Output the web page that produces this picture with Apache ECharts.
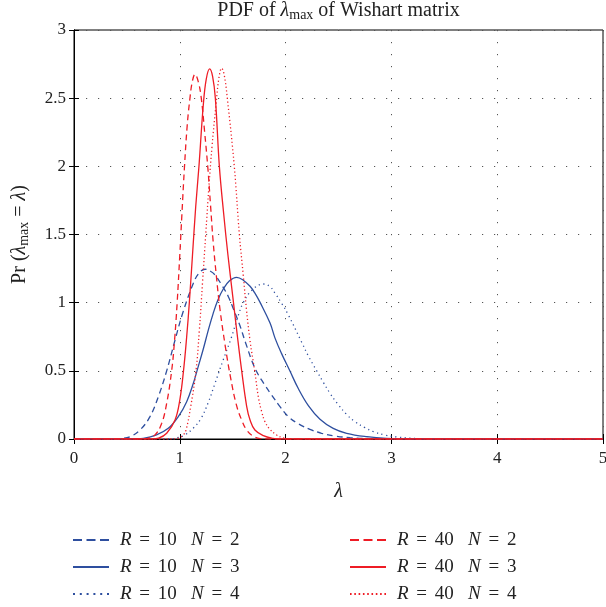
<!DOCTYPE html>
<html style="height: 100%">
    <head>
        <meta charset="utf-8">
    </head>
    <body style="height: 100%; margin: 0; background: #fff">
        <div id="container" style="height: 100%"></div>

        <script type="text/javascript" src="https://cdn.jsdelivr.net/npm/echarts@6/dist/echarts.min.js"></script>

        <script type="text/javascript">
// [lambda, pdf]
var r10n2 = [[0,0],[0.40,0],[0.435,0.002],[0.529,0.017],[0.624,0.066],[0.718,0.164],[0.797,0.31],[0.876,0.5],[0.955,0.726],[1.03,0.93],[1.128,1.142],[1.18,1.215],[1.238,1.245],[1.29,1.23],[1.333,1.203],[1.396,1.13],[1.459,1.044],[1.506,0.955],[1.569,0.83],[1.62,0.71],[1.71,0.52],[1.80,0.4],[1.868,0.323],[1.947,0.237],[2.026,0.164],[2.12,0.112],[2.23,0.071],[2.34,0.042],[2.467,0.022],[2.61,0.01],[2.8,0.003],[3.1,0],[5,0]];
var r10n3 = [[0,0],[0.55,0],[0.655,0.005],[0.78,0.03],[0.891,0.078],[0.986,0.164],[1.065,0.274],[1.128,0.409],[1.17,0.52],[1.222,0.66],[1.27,0.8],[1.315,0.92],[1.36,1.02],[1.411,1.1],[1.47,1.16],[1.537,1.186],[1.60,1.165],[1.664,1.12],[1.71,1.07],[1.76,1.0],[1.853,0.85],[1.90,0.74],[1.96,0.63],[2.04,0.5],[2.12,0.37],[2.215,0.245],[2.325,0.145],[2.45,0.078],[2.577,0.042],[2.77,0.017],[2.955,0.005],[3.2,0],[5,0]];
var r10n4 = [[0,0],[0.9,0],[0.97,0.008],[1.049,0.03],[1.128,0.08],[1.20,0.15],[1.27,0.27],[1.333,0.409],[1.41,0.58],[1.49,0.75],[1.55,0.9],[1.60,1.0],[1.68,1.09],[1.79,1.137],[1.853,1.118],[1.90,1.069],[1.963,0.995],[2.026,0.91],[2.152,0.71],[2.215,0.609],[2.294,0.5],[2.357,0.415],[2.42,0.335],[2.49,0.26],[2.577,0.18],[2.656,0.127],[2.75,0.083],[2.83,0.054],[2.94,0.029],[3.05,0.015],[3.25,0.003],[3.5,0],[5,0]];
var r40n2 = [[0,0],[0.62,0],[0.69,0.003],[0.766,0.03],[0.829,0.115],[0.876,0.262],[0.923,0.5],[0.95,0.72],[0.975,1.0],[1.0,1.35],[1.02,1.65],[1.043,1.98],[1.07,2.3],[1.096,2.5],[1.118,2.62],[1.144,2.676],[1.175,2.62],[1.203,2.5],[1.235,2.25],[1.266,1.98],[1.29,1.72],[1.315,1.45],[1.345,1.2],[1.38,0.95],[1.43,0.68],[1.48,0.45],[1.535,0.25],[1.585,0.139],[1.632,0.066],[1.695,0.02],[1.76,0.003],[1.85,0],[5,0]];
var r40n3 = [[0,0],[0.74,0],[0.80,0.006],[0.876,0.042],[0.955,0.139],[1.0,0.286],[1.035,0.5],[1.065,0.75],[1.09,1.0],[1.12,1.35],[1.15,1.7],[1.181,2.0],[1.222,2.45],[1.25,2.64],[1.282,2.715],[1.31,2.66],[1.336,2.5],[1.374,2.0],[1.415,1.65],[1.455,1.35],[1.5,1.05],[1.545,0.75],[1.585,0.5],[1.632,0.24],[1.664,0.139],[1.71,0.066],[1.79,0.025],[1.88,0.005],[1.95,0],[5,0]];
var r40n4 = [[0,0],[0.9,0],[0.98,0.005],[1.033,0.03],[1.059,0.066],[1.103,0.237],[1.153,0.5],[1.185,0.8],[1.215,1.15],[1.245,1.5],[1.275,1.85],[1.305,2.15],[1.342,2.45],[1.37,2.65],[1.396,2.72],[1.42,2.67],[1.449,2.5],[1.515,2.0],[1.563,1.5],[1.60,1.2],[1.63,0.95],[1.664,0.72],[1.71,0.49],[1.742,0.31],[1.774,0.2],[1.805,0.127],[1.852,0.071],[1.916,0.029],[1.98,0.008],[2.05,0],[5,0]];

var seriesNames = ['R = 10  N = 2', 'R = 10  N = 3', 'R = 10  N = 4',
                   'R = 40  N = 2', 'R = 40  N = 3', 'R = 40  N = 4'];
var seriesData = [r10n2, r10n3, r10n4, r40n2, r40n3, r40n4];

var blue = '#2e4f9f';
var red = '#ee1c25';
var serif = 'Liberation Serif';
var dashes = [[6, 4], null, [1.2, 3.5], [6, 4], null, [1.2, 2.5]];

// legend samples as filled paths (line series legend would add a circle)
var iconDash = 'path://M0,0h9v2h-9zM13.5,0h9v2h-9zM27,0h9v2h-9z';
var iconSolid = 'path://M0,0h36v2h-36z';
var iconDotBlue = 'path://M0,0h2v2h-2zM6.8,0h2v2h-2zM13.6,0h2v2h-2zM20.4,0h2v2h-2zM27.2,0h2v2h-2zM34,0h2v2h-2z';
var iconDotRed = 'path://M0,0h1.6v2h-1.6zM4.3,0h1.6v2h-1.6zM8.6,0h1.6v2h-1.6zM12.9,0h1.6v2h-1.6zM17.2,0h1.6v2h-1.6zM21.5,0h1.6v2h-1.6zM25.8,0h1.6v2h-1.6zM30.1,0h1.6v2h-1.6zM34.4,0h1.6v2h-1.6z';
var legendIcons = [iconDash, iconSolid, iconDotBlue, iconDash, iconSolid, iconDotRed];

var dom = document.getElementById("container");
var myChart = echarts.init(dom);

var gridDots = { show: true, lineStyle: { color: '#555', width: 1, type: [1.2, 10.8] } };
var tickIn = { show: true, inside: true, length: 5, lineStyle: { color: '#000' } };
var labelFont = { fontFamily: serif, fontSize: 17, color: '#222' };

var series = seriesData.map(function (d, i) {
  var c = i < 3 ? blue : red;
  return {
    name: seriesNames[i],
    type: 'line',
    data: d,
    smooth: 0.4,
    symbol: 'none',
    showSymbol: false,
    clip: true,
    lineStyle: { color: c, width: 1.3, type: dashes[i] || 'solid' },
    itemStyle: { color: c }
  };
});

function legendFmt(name) {
  return name.replace(/([RN])/g, '{i|$1}').replace(/=/g, '{e|=}').replace('  ', '   ');
}
function legendOf(from, left) {
  var items = [];
  for (var k = from; k < from + 3; k++) {
    items.push({ name: seriesNames[k], icon: legendIcons[k] });
  }
  return {
    orient: 'vertical',
    left: left,
    top: 529,
    width: 240,
    height: 90,
    padding: 0,
    data: items,
    itemWidth: 36,
    itemHeight: 2,
    itemGap: 5,
    selectedMode: false,
    formatter: legendFmt,
    textStyle: {
      fontFamily: serif, fontSize: 19, lineHeight: 22, color: '#222', padding: [0, 0, 0, 6],
      rich: {
        i: { fontFamily: serif, fontSize: 19, lineHeight: 22, fontStyle: 'italic', color: '#222' },
        e: { fontFamily: serif, fontSize: 19, lineHeight: 22, color: '#222', padding: [0, 3, 0, 3] }
      }
    }
  };
}

var option = {
  animation: false,
  backgroundColor: '#fff',
  grid: {
    left: 74, right: 3, top: 30, bottom: 168,
    outerBoundsMode: 'none',
    show: true, borderColor: '#000', borderWidth: 1, backgroundColor: 'transparent'
  },
  legend: [legendOf(0, 73), legendOf(3, 350)],
  xAxis: [{
    type: 'value', min: 0, max: 5, interval: 1,
    name: 'λ', nameLocation: 'middle', nameGap: 43,
    nameTextStyle: { fontFamily: serif, fontSize: 20, fontStyle: 'italic', color: '#222' },
    axisLine: { show: true, lineStyle: { color: '#000' } },
    axisTick: tickIn,
    axisLabel: Object.assign({ margin: 11 }, labelFont),
    splitLine: gridDots
  }, {
    type: 'value', min: 0, max: 5, interval: 1, position: 'top',
    name: '{a|PDF of }{l|λ}{s|max}{a| of Wishart matrix}', nameLocation: 'middle', nameGap: 8,
    nameTextStyle: {
      rich: {
        a: { fontFamily: serif, fontSize: 20, color: '#222' },
        l: { fontFamily: serif, fontSize: 20, fontStyle: 'italic', color: '#222' },
        s: { fontFamily: serif, fontSize: 14, color: '#222', padding: [8, 0, 0, 0] }
      }
    },
    axisLine: { show: true, lineStyle: { color: '#000' } },
    axisTick: tickIn,
    axisLabel: { show: false },
    splitLine: { show: false }
  }],
  yAxis: [{
    type: 'value', min: 0, max: 3, interval: 0.5,
    name: '{a|Pr (}{l|λ}{s|max}{a| = }{l|λ}{a|)}', nameLocation: 'middle', nameGap: 43,
    nameTextStyle: {
      rich: {
        a: { fontFamily: serif, fontSize: 20, color: '#222' },
        l: { fontFamily: serif, fontSize: 20, fontStyle: 'italic', color: '#222' },
        s: { fontFamily: serif, fontSize: 14, color: '#222', padding: [8, 0, 0, 0] }
      }
    },
    axisLine: { show: true, lineStyle: { color: '#000' } },
    axisTick: tickIn,
    axisLabel: Object.assign({ margin: 8 }, labelFont),
    splitLine: gridDots
  }, {
    type: 'value', min: 0, max: 3, interval: 0.5, position: 'right',
    axisLine: { show: true, lineStyle: { color: '#000' } },
    axisTick: tickIn,
    axisLabel: { show: false },
    splitLine: { show: false }
  }],
  series: series
};

myChart.setOption(option);
        </script>
    </body>
</html>
